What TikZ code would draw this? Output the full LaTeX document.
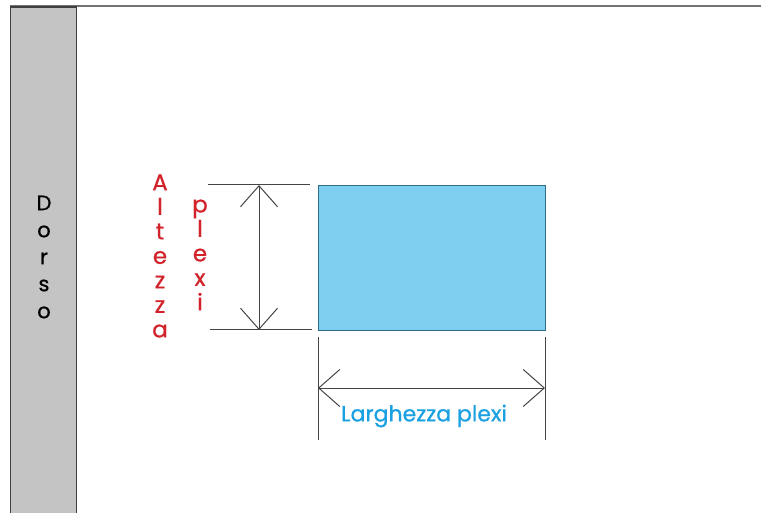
\documentclass[tikz,border=0pt]{standalone}
\usepackage{fontspec}
\setmainfont{Poppins}
\newfontfamily\medfont{Poppins}[FakeBold=0.8]
\usetikzlibrary{arrows.meta}
\definecolor{plexiblue}{HTML}{7ECEF0}
\definecolor{plexiedge}{HTML}{2B6C8A}
\definecolor{redtxt}{HTML}{D2232A}
\definecolor{cyantxt}{HTML}{1BA1E2}
\definecolor{dorsogray}{HTML}{C4C4C4}
\definecolor{dimline}{HTML}{444444}
\tikzset{
  dimguide/.style={draw=dimline, line width=1pt},
  dimarrow/.style={draw=dimline, line width=1pt, {Straight Barb[length=21pt,width=37pt]}-{Straight Barb[length=21pt,width=37pt]}},
  vlabel/.style={align=center, inner sep=0pt, font=\medfont\fontsize{23}{24.5}\selectfont},
}
\begin{document}
\begin{tikzpicture}[x=1pt,y=-1pt]
\useasboundingbox (0,0) rectangle (761,513);
% frame
\draw[line width=2pt, draw=gray!90!black] (10,6.5) -- (761,6.5);
\node[draw=black!75, line width=1.2pt, fill=dorsogray, minimum width=66pt, minimum height=510pt, anchor=north west, inner sep=0pt] (dorsobar) at (10,6.5) {};
\node[vlabel, text=black, font=\medfont\fontsize{21}{27}\selectfont] (dorso) at (44,257) {D\\o\\r\\s\\o};
% plexi
\node[draw=plexiedge, line width=0.8pt, fill=plexiblue, minimum width=227pt, minimum height=145pt, anchor=north west, inner sep=0pt] (plexi) at (318,185) {};
% height dimension
\coordinate (ht1) at (208,185);
\coordinate (ht2) at (310,185);
\coordinate (hb1) at (210,330);
\coordinate (hb2) at (312,330);
\coordinate (ha1) at (259,185);
\coordinate (ha2) at (259,330);
\draw[dimguide] (ht1) -- (ht2);
\draw[dimguide] (hb1) -- (hb2);
\draw[dimarrow] (ha1) -- (ha2);
% width dimension
\coordinate (wl1) at (318,337);
\coordinate (wl2) at (318,440);
\coordinate (wr1) at (545,337);
\coordinate (wr2) at (545,440);
\coordinate (wa1) at (318,388);
\coordinate (wa2) at (545,388);
\draw[dimguide] (wl1) -- (wl2);
\draw[dimguide] (wr1) -- (wr2);
\draw[dimarrow] (wa1) -- (wa2);
% labels
\node[vlabel, text=redtxt] (altezza) at (160,256) {A\\l\\t\\e\\z\\z\\a};
\node[vlabel, text=redtxt] (plexitxt) at (200,255) {p\\l\\e\\x\\i};
\node[inner sep=0pt, text=cyantxt, font=\medfont\fontsize{22}{24}\selectfont] (larg) at (424,416) {Larghezza plexi};
\end{tikzpicture}
\end{document}
